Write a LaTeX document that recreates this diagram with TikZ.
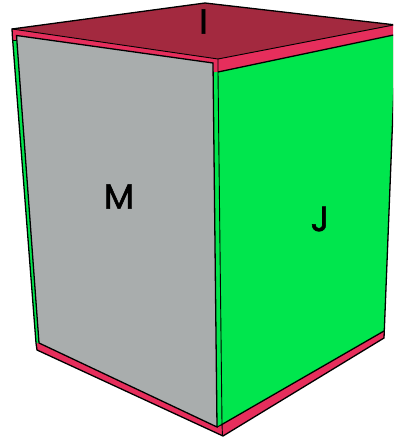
\documentclass[tikz,border=0pt]{standalone}
\usepackage{fontspec}
\setmainfont{Poppins}
\definecolor{cgray}{HTML}{A9ADAD}
\definecolor{cgreen}{HTML}{00E64D}
\definecolor{cred}{HTML}{E62E5C}
\definecolor{cdark}{HTML}{A3293F}
\tikzset{
  edge/.style={draw=black,line width=1.3pt,line join=miter},
  thin edge/.style={draw=black,line width=0.9pt},
  lab/.style={font=\fontsize{35}{35}\selectfont\addfontfeature{FakeBold=1.6},text=black,inner sep=0pt,anchor=center}
}
\begin{document}
\begin{tikzpicture}[x=1pt,y=-1pt]
\useasboundingbox (0,0) rectangle (393,438);
\clip (0,0) rectangle (393,438);
% whole red shell
\fill[cred] (12,29) -- (205,3) -- (396,25) -- (396,35) -- (384,338) -- (223,436) -- (37,350) -- cycle;
% top
\fill[cdark] (12,29) -- (205,3) -- (396,25) -- (218,59) -- cycle;
\draw[thin edge] (12,29) -- (218,59) -- (396,24.5);
% green faces
\fill[cgreen] (212,72.5) -- (218,72) -- (396,34.5) -- (392,130) -- (384,331) -- (222,424.5) -- (216,427) -- cycle;
\fill[cgreen] (13,40) -- (17,40) -- (39,343) -- (36,343) -- cycle;
\draw[edge] (218,72) -- (396,34.5);
\draw[edge] (221,425) -- (384,331);
\draw[thin edge] (218,59) -- (218,72) -- (222,424) -- (222.5,436);
\draw[thin edge] (13,40) -- (16,40);
% grey
\fill[cgray] (16.5,35.5) -- (213,63) -- (217,427) -- (39,343) -- cycle;
\draw[edge] (16.5,35.5) -- (213,63) -- (217,427) -- (39,343) -- cycle;
\draw[thin edge] (217,427) -- (222,424.5);
% outline
\draw[edge] (396,25) -- (205,3) -- (12,29) -- (12.5,38) -- (36,343) -- (37,350) -- (223,436) -- (384,338) -- (396,35);
\node[lab] (I) at (203.5,21.5) {I};
\node[lab] (M) at (119,196.5) {M};
\node[lab] (J) at (320,219) {J};
\end{tikzpicture}
\end{document}
